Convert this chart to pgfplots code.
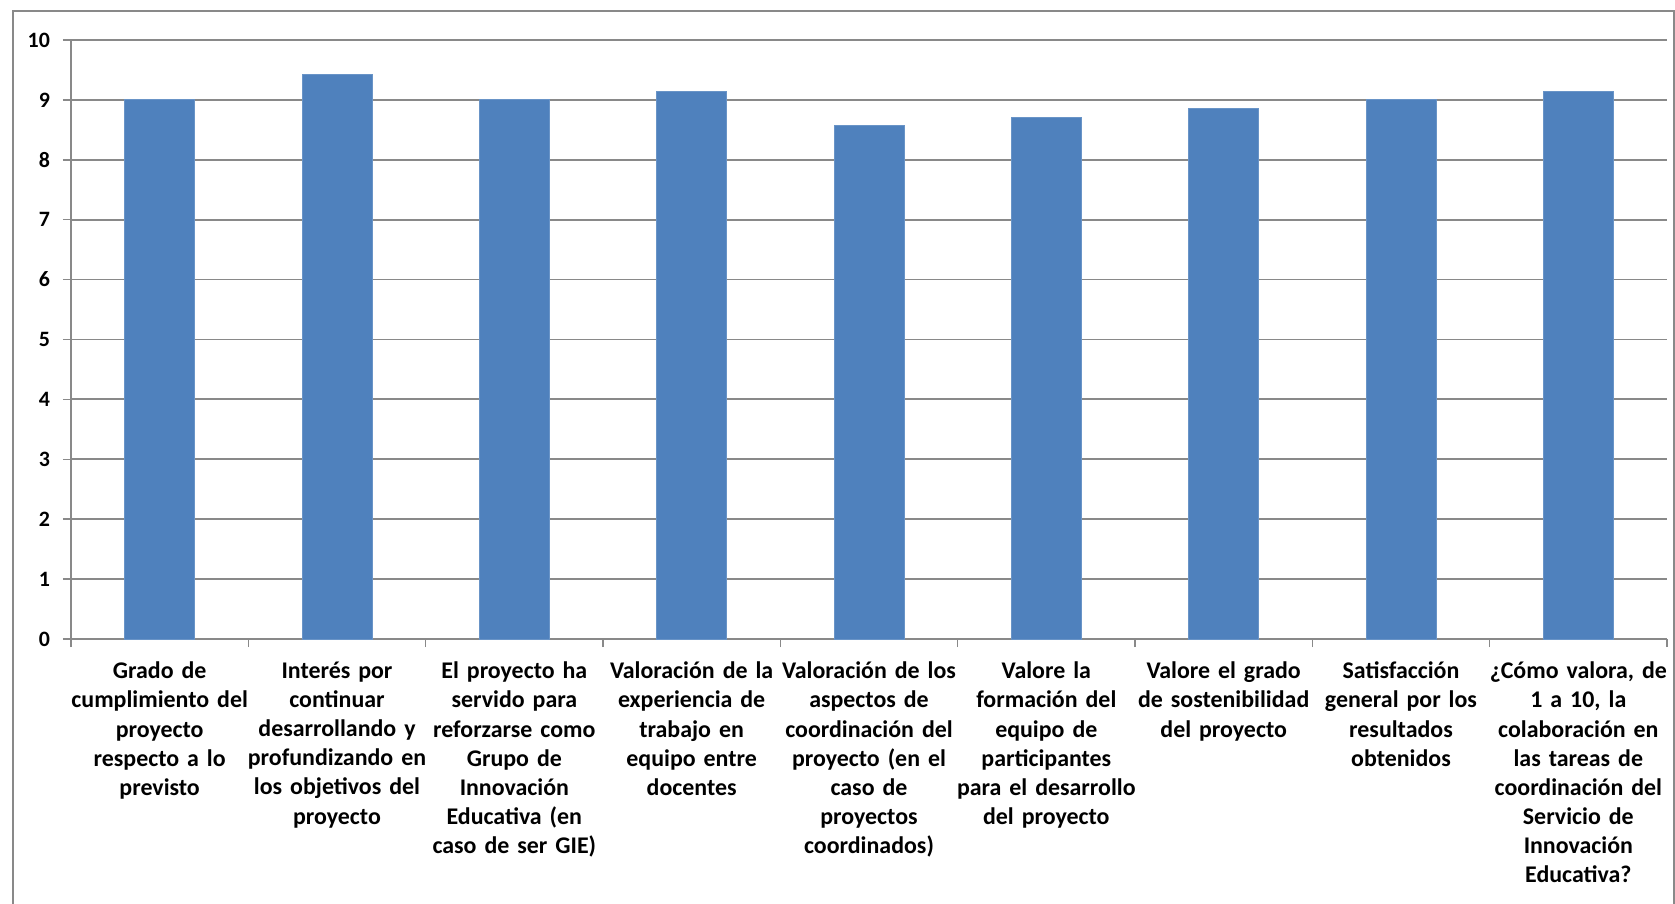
\documentclass[border=0pt]{standalone}
\usepackage{fontspec}
\setmainfont{Carlito}
\usepackage{pgfplots}
\pgfplotsset{compat=1.18}

\definecolor{barblue}{HTML}{4F81BD}
\definecolor{gridgray}{HTML}{898989}

\begin{document}
\begin{tikzpicture}
% page size: 1675x904 px at 0.5bp per px, plot area origin at (71px,639px)
\useasboundingbox (-35.5bp,-132.5bp) rectangle (802bp,319.5bp);
\draw[gridgray, line width=0.8bp] (-29bp,-140bp) -- (-29bp,314bp) -- (801.6bp,314bp) -- (801.6bp,-140bp);
\begin{axis}[
    at={(0,0)}, anchor=south west,
    scale only axis,
    width=798bp, height=299.5bp,
    xmin=-0.5, xmax=8.5,
    ymin=0, ymax=10,
    ytick={0,1,...,10},
    xtick={-0.5,0.5,...,8.5},
    x tick label as interval,
    xticklabels={
        {Grado de\\cumplimiento del\\proyecto\\respecto a lo\\previsto},
        {Interés por\\continuar\\desarrollando y\\profundizando en\\los objetivos del\\proyecto},
        {El proyecto ha\\servido para\\reforzarse como\\Grupo de\\Innovación\\Educativa (en\\caso de ser GIE)},
        {Valoración de la\\experiencia de\\trabajo en\\equipo entre\\docentes},
        {Valoración de los\\aspectos de\\coordinación del\\proyecto (en el\\caso de\\proyectos\\coordinados)},
        {Valore la\\formación del\\equipo de\\participantes\\para el desarrollo\\del proyecto},
        {Valore el grado\\de sostenibilidad\\del proyecto},
        {Satisfacción\\general por los\\resultados\\obtenidos},
        {¿Cómo valora, de\\1 a 10, la\\colaboración en\\las tareas de\\coordinación del\\Servicio de\\Innovación\\Educativa?}
    },
    x tick label style={font=\bfseries\fontsize{12}{14.6}\selectfont, text width=110bp, align=center, anchor=north, yshift=-4bp},
    y tick label style={font=\bfseries\fontsize{11}{13}\selectfont, xshift=-3bp},
    /pgf/number format/assume math mode=true,
    tick align=outside,
    major tick length=4bp,
    tick style={gridgray, line width=0.8bp},
    axis x line*=bottom,
    axis y line*=left,
    axis line style={gridgray, line width=0.8bp, -},
    ymajorgrids,
    grid style={gridgray, line width=0.9bp},
    ybar, bar width=35bp,
]
\addplot[fill=barblue, draw=barblue!85!white, line width=0.4bp] coordinates {
    (0, 9.00)
    (1, 9.43)
    (2, 9.00)
    (3, 9.14)
    (4, 8.57)
    (5, 8.71)
    (6, 8.86)
    (7, 9.00)
    (8, 9.14)
};
\end{axis}
\end{tikzpicture}
\end{document}
